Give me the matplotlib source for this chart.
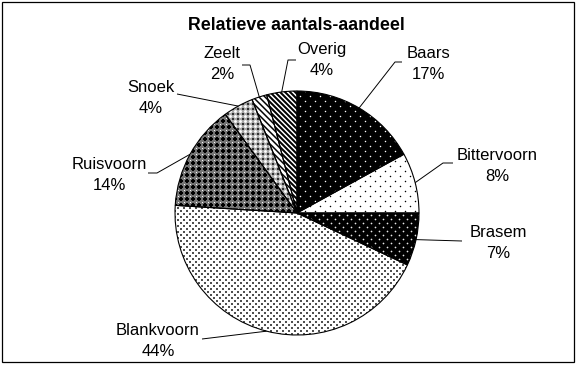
import numpy as np
import matplotlib
matplotlib.use("Agg")
import matplotlib.pyplot as plt
from matplotlib.collections import LineCollection
from matplotlib.patches import Rectangle

plt.rcParams["font.family"] = ["Liberation Sans", "DejaVu Sans"]

# --- data -------------------------------------------------------------
species = ["Baars", "Bittervoorn", "Brasem", "Blankvoorn",
           "Ruisvoorn", "Snoek", "Zeelt", "Overig"]
shares = [17, 8, 7, 44, 14, 4, 2, 4]
title = "Relatieve aantals-aandeel"

# --- layout (pixel coordinates, y pointing down) ----------------------
W, H = 576, 365
CX, CY, RAD = 297, 213, 122

# x centre and baseline of the species name; percentage sits one line lower
label_pos = {
    "Baars": (428, 58),
    "Bittervoorn": (497, 160),
    "Brasem": (498, 237),
    "Blankvoorn": (158, 335),
    "Ruisvoorn": (109, 169),
    "Snoek": (151, 92),
    "Zeelt": (222, 58),
    "Overig": (322, 54),
}
line_gap = 21

# leader line points after the wedge edge
leader_path = {
    "Baars": [(395, 62), (402, 62)],
    "Bittervoorn": [(443, 163), (453, 163)],
    "Brasem": [(462, 241)],
    "Blankvoorn": [(202, 339)],
    "Ruisvoorn": [(157, 173), (148, 173)],
    "Snoek": [(177, 94)],
    "Zeelt": [(250, 65), (242, 65)],
    "Overig": [(288, 60), (296, 60)],
}

# fill styles: background plus dot layers (colour, period x, period y, offsets, size px, marker)
# or diagonal line layers (colour, period, width px)
styles = {
    "Baars": dict(bg="black", dots=[("white", 10, 10, [(0, 0), (5, 5)], 1.5, "o")]),
    "Bittervoorn": dict(bg="white", dots=[("black", 10, 10, [(0, 0), (5, 5)], 1.5, "o")]),
    "Brasem": dict(bg="black", dots=[("#e8e8e8", 8, 8, [(0, 0), (4, 4)], 1.7, "o")]),
    "Blankvoorn": dict(bg="white", dots=[("#505050", 6, 6, [(0, 0), (3, 3)], 1.8, "s")]),
    "Ruisvoorn": dict(bg="#747474", dots=[("black", 6, 6, [(0, 0)], 4.0, "P"),
                                          ("white", 6, 6, [(3, 3)], 1.2, "o")]),
    "Snoek": dict(bg="#a8a8a8", dots=[("white", 5, 5, [(0, 0)], 2.8, "o"),
                                      ("#303030", 5, 5, [(2.5, 2.5)], 1.1, "s")]),
    "Zeelt": dict(bg="white", lines=("black", 6.0, 1.5)),
    "Overig": dict(bg="white", lines=("black", 5.0, 2.0)),
}

fig = plt.figure(figsize=(W / 100, H / 100), dpi=100)
ax = fig.add_axes([0, 0, 1, 1])

# y axis is inverted, so counterclock=True runs clockwise on screen and
# startangle=-90 starts at 12 o'clock
wedges, _ = ax.pie(shares, startangle=-90, counterclock=True, radius=RAD,
                   center=(CX, CY), colors=[styles[s]["bg"] for s in species],
                   wedgeprops=dict(linewidth=0))

px_to_pt = 0.72
for w, name in zip(wedges, species):
    st = styles[name]
    for col, perx, pery, offs, size, mk in st.get("dots", []):
        xs = np.arange(CX - RAD - perx, CX + RAD + perx, perx)
        ys = np.arange(CY - RAD - pery, CY + RAD + pery, pery)
        for ox, oy in offs:
            X, Y = np.meshgrid(xs + ox, ys + oy)
            sc = ax.scatter(X.ravel(), Y.ravel(), s=(size * px_to_pt) ** 2,
                            c=col, marker=mk, linewidths=0, zorder=2)
            sc.set_clip_path(w)
    if "lines" in st:
        col, per, lw = st["lines"]
        cs = np.arange(-2 * RAD - 50, 2 * RAD + 50, per) + (CY - CX)
        x0, x1 = CX - RAD - 5, CX + RAD + 5
        segs = [[(x0, x0 + c), (x1, x1 + c)] for c in cs]
        lc = LineCollection(segs, colors=col, linewidths=lw * px_to_pt, zorder=2)
        lc.set_clip_path(w)
        ax.add_collection(lc)

# outlines on top of the fills
ax.pie(shares, startangle=-90, counterclock=True, radius=RAD, center=(CX, CY),
       wedgeprops=dict(fill=False, linewidth=0.8, edgecolor="black", zorder=3))

# labels with leader lines
for w, name, val in zip(wedges, species, shares):
    mid = np.deg2rad((w.theta1 + w.theta2) / 2)
    sx = CX + RAD * np.cos(mid)
    sy = CY + RAD * np.sin(mid)
    pts = [(sx, sy)] + leader_path[name]
    ax.plot([p[0] for p in pts], [p[1] for p in pts], color="black", lw=0.7,
            zorder=4, solid_capstyle="butt")
    lx, ly = label_pos[name]
    ax.text(lx, ly, name, ha="center", va="baseline", fontsize=12, zorder=5)
    ax.text(lx, ly + line_gap, f"{val}%", ha="center", va="baseline",
            fontsize=12, zorder=5)

ax.text(296, 30, title, ha="center", va="baseline", fontsize=12.8,
        fontweight="bold")

ax.add_patch(Rectangle((1.5, 1.5), 572, 360, fill=False, lw=0.9,
                       edgecolor="black", clip_on=False))

ax.set_xlim(0, W)
ax.set_ylim(H, 0)
ax.set_aspect("equal")
ax.axis("off")

fig.savefig("out.png", dpi=100, facecolor="white")
